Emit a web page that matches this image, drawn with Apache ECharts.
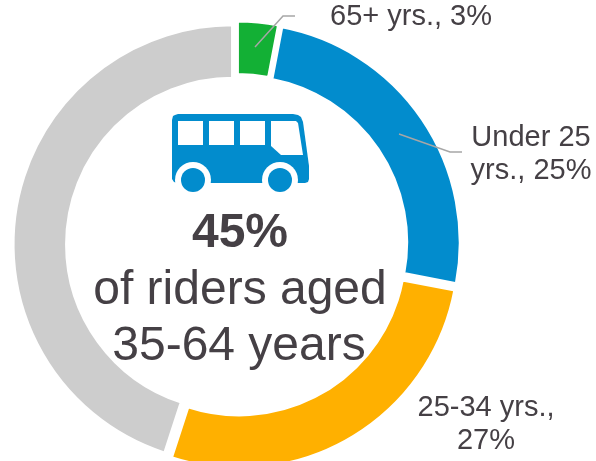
<!DOCTYPE html>
<html>
<head>
<meta charset="utf-8">
<style>
  html, body { margin: 0; padding: 0; background: #fff; }
  #chart { width: 596px; height: 461px; }
</style>
</head>
<body>
<div id="chart"></div>
<script src="https://cdn.jsdelivr.net/npm/echarts@6/dist/echarts.min.js"></script>
<script>
const categories = ['65+ yrs.', 'Under 25 yrs.', '25-34 yrs.', '35-64 yrs.']
const shares = [3, 25, 27, 45]
const sliceColors = ['#13b035', '#028ccd', '#ffb000', '#cdcdcd']
const labelTexts = ['65+ yrs., 3%', 'Under 25\nyrs., 25%', '25-34 yrs.,\n27%']
const labelSpots = [[411, 17], [531, 154], [486, 424]]

const textColor = '#454045'
const fontFamily = '"Liberation Sans", Arial, sans-serif'
const busBlue = '#028ccd'

const chart = echarts.init(document.getElementById('chart'), null, { renderer: 'canvas' })

function leader(points) {
  return {
    type: 'polyline',
    z: 20,
    shape: { points },
    style: { fill: null, stroke: '#a6a6a6', lineWidth: 1.5 },
  }
}

function text(str, x, y, size, weight, lineHeight) {
  return {
    type: 'text',
    x,
    y,
    z: 20,
    style: {
      text: str,
      fill: textColor,
      font: `${weight} ${size}px ${fontFamily}`,
      lineHeight,
      align: 'center',
      verticalAlign: 'middle',
    },
  }
}

function rect(x, y, w, h, fill) {
  return { type: 'rect', z: 10, shape: { x, y, width: w, height: h }, style: { fill } }
}

function wheel(cx, cy) {
  return [
    { type: 'circle', z: 11, shape: { cx, cy, r: 18 }, style: { fill: '#fff' } },
    { type: 'circle', z: 12, shape: { cx, cy, r: 12 }, style: { fill: busBlue } },
  ]
}

const busParts = [
  {
    type: 'polygon',
    z: 10,
    shape: {
      points: [
        [178, 114], [293, 114], [298, 115], [301, 117], [303, 122], [309, 166], [309, 179], [308, 182], [305, 183],
        [177, 183], [174, 182], [172, 179], [172, 120], [173, 116], [175, 115],
      ],
    },
    style: { fill: busBlue },
  },
  rect(178, 121, 25, 24, '#fff'),
  rect(209, 121, 25, 24, '#fff'),
  rect(240, 121, 25, 24, '#fff'),
  {
    type: 'polygon',
    z: 10,
    shape: { points: [[271, 121], [296, 121], [298, 123], [303, 155], [281, 155], [271, 146]] },
    style: { fill: '#fff' },
  },
  ...wheel(193, 180),
  ...wheel(280, 180),
]

chart.setOption({
  animation: false,
  backgroundColor: '#ffffff',
  series: [
    {
      type: 'pie',
      center: [237, 245],
      radius: [166, 219.5],
      startAngle: 90,
      clockwise: true,
      selectedMode: 'multiple',
      selectedOffset: 4.5,
      silent: true,
      itemStyle: { borderColor: '#fff', borderWidth: 3 },
      label: { show: false },
      labelLine: { show: false },
      data: categories.map((name, i) => ({
        name,
        value: shares[i],
        selected: true,
        itemStyle: { color: sliceColors[i] },
      })),
    },
  ],
  graphic: [
    ...busParts,
    text('45%', 240, 234, 48, 'bold'),
    text('of riders aged', 240, 291, 48, 'normal'),
    text('35-64 years', 239, 347, 48, 'normal'),
    ...labelTexts.map((t, i) => text(t, labelSpots[i][0], labelSpots[i][1], 29, 'normal', 33)),
    leader([[255, 47], [283, 16], [295, 16]]),
    leader([[399, 134], [450, 152], [462, 152]]),
  ],
})
</script>
</body>
</html>
